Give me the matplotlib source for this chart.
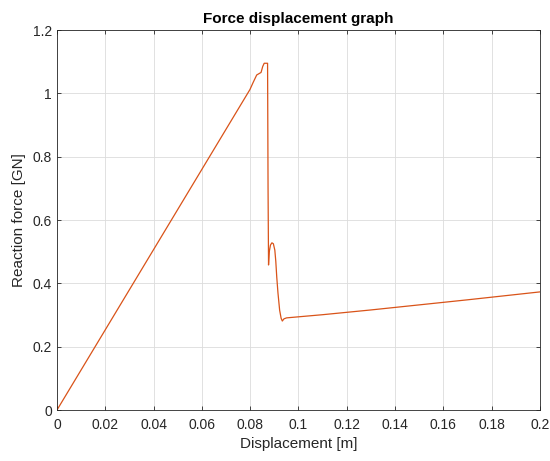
import numpy as np
import matplotlib.pyplot as plt

plt.rcParams['font.family'] = ['Liberation Sans', 'DejaVu Sans']

# displacement [m] and reaction force [GN]
displacement = np.array([0.0, 0.0799, 0.0812, 0.0827, 0.0836, 0.0845,
                         0.0852, 0.0858, 0.0866, 0.0872, 0.0874, 0.0876, 0.0879,
                         0.0884, 0.0890, 0.0896, 0.0902, 0.0906, 0.0910, 0.0915,
                         0.0922, 0.0928, 0.0933, 0.0940, 0.0951, 0.110, 0.130,
                         0.150, 0.170, 0.200])
force = np.array([0.0, 1.012, 1.034, 1.058, 1.062, 1.066,
                  1.085, 1.095, 1.095, 1.095, 0.700, 0.458, 0.500,
                  0.521, 0.528, 0.525, 0.505, 0.470, 0.420, 0.370,
                  0.315, 0.290, 0.281, 0.288, 0.291, 0.301, 0.316,
                  0.332, 0.348, 0.373])

xticks = np.arange(0, 0.201, 0.02)
yticks = np.arange(0, 1.21, 0.2)
xticklabels = ['0', '0.02', '0.04', '0.06', '0.08', '0.1', '0.12', '0.14', '0.16', '0.18', '0.2']
yticklabels = ['0', '0.2', '0.4', '0.6', '0.8', '1', '1.2']

fig = plt.figure(figsize=(5.5, 4.61), dpi=100)
ax = fig.add_axes([0.1036, 0.1106, 0.8782, 0.8243])

ax.plot(displacement, force, color='#D95319', linewidth=0.9)

ax.set_xlim(0, 0.2)
ax.set_ylim(0, 1.2)
ax.set_xticks(xticks)
ax.set_xticklabels(xticklabels)
ax.set_yticks(yticks)
ax.set_yticklabels(yticklabels)
ax.grid(True, color='#dcdcdc', linewidth=0.6)
ax.set_axisbelow(True)
ax.tick_params(direction='in', length=3, width=0.6, colors='#262626',
               labelsize=10, top=True, right=True, labeltop=False, labelright=False)
ax.tick_params(axis='x', pad=6)
for s in ax.spines.values():
    s.set_color('#262626')
    s.set_linewidth(0.6)

ax.set_xlabel('Displacement [m]', fontsize=11, color='#262626', labelpad=3)
ax.set_ylabel('Reaction force [GN]', fontsize=11, color='#262626', labelpad=5)
ax.set_title('Force displacement graph', fontsize=11, fontweight='bold', pad=5)

fig.savefig('out.png', dpi=100)
